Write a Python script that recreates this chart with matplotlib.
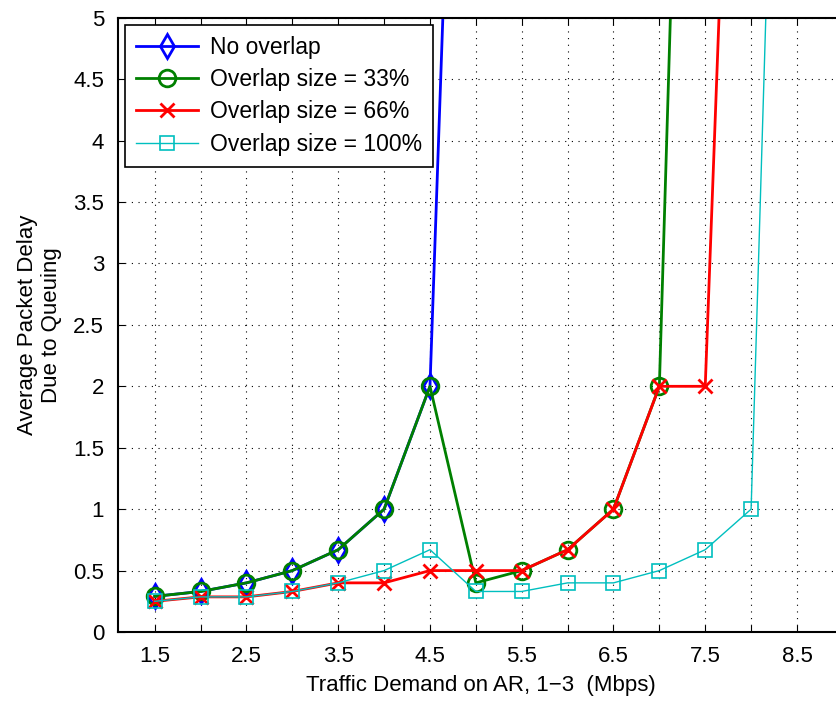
import matplotlib
matplotlib.use('Agg')
import matplotlib.pyplot as plt
import numpy as np

plt.rcParams['font.family'] = ['Liberation Sans', 'DejaVu Sans']

# data
x_none = [1.5, 2.0, 2.5, 3.0, 3.5, 4.0, 4.5, 5.0]
y_none = [0.29, 0.33, 0.40, 0.50, 0.67, 1.0, 2.0, 12.7]

x_33 = [1.5, 2.0, 2.5, 3.0, 3.5, 4.0, 4.5, 5.0, 5.5, 6.0, 6.5, 7.0, 7.5]
y_33 = [0.29, 0.33, 0.40, 0.50, 0.67, 1.0, 2.0, 0.40, 0.50, 0.67, 1.0, 2.0, 14.5]

x_66 = [1.5, 2.0, 2.5, 3.0, 3.5, 4.0, 4.5, 5.0, 5.5, 6.0, 6.5, 7.0, 7.5, 8.0]
y_66 = [0.25, 0.286, 0.286, 0.33, 0.40, 0.40, 0.50, 0.50, 0.50, 0.67, 1.0, 2.0, 2.0, 12.0]

x_100 = [1.5, 2.0, 2.5, 3.0, 3.5, 4.0, 4.5, 5.0, 5.5, 6.0, 6.5, 7.0, 7.5, 8.0, 8.5]
y_100 = [0.25, 0.286, 0.286, 0.33, 0.40, 0.50, 0.67, 0.33, 0.33, 0.40, 0.40, 0.50, 0.67, 1.0, 13.5]

xticks = np.arange(1.5, 9.0, 0.5)
xlabels = ['%g' % v if (v * 2) % 2 == 1 else '' for v in xticks]
yticks = np.arange(0, 5.01, 0.5)
ylabels = ['%g' % v for v in yticks]

fig = plt.figure(figsize=(8.37, 7.02), dpi=100)
ax = fig.add_axes([0.141, 0.0997, 0.866, 0.875])

ax.plot(x_none, y_none, '-', color='b', lw=2, marker='d', ms=12, mfc='none', mew=2, label='No overlap')
ax.plot(x_33, y_33, '-', color=(0, 0.5, 0), lw=2, marker='o', ms=12, mfc='none', mew=2, label='Overlap size = 33%')
ax.plot(x_66, y_66, '-', color='r', lw=2, marker='x', ms=10, mew=2, label='Overlap size = 66%')
ax.plot(x_100, y_100, '-', color=(0, 0.75, 0.75), lw=1, marker='s', ms=10, mfc='none', mew=1.2, label='Overlap size = 100%')

ax.set_xlim(1.1, 9.0)
ax.set_ylim(0, 5)
ax.set_xticks(xticks)
ax.set_xticklabels(xlabels)
ax.set_yticks(yticks)
ax.set_yticklabels(ylabels)
ax.tick_params(direction='in', top=True, right=True, labelsize=16, length=5, pad=10)
ax.grid(True, color='k', linestyle=(0, (1, 5)), linewidth=0.8)
for s in ax.spines.values():
    s.set_linewidth(1.5)

ax.set_xlabel('Traffic Demand on AR, 1\u22123  (Mbps)', fontsize=16, labelpad=6)
ax.set_ylabel('Average Packet Delay\nDue to Queuing', fontsize=16, labelpad=8)

leg = ax.legend(loc='upper left', fontsize=16.5, fancybox=False, edgecolor='k', framealpha=1,
                handlelength=2.7, borderaxespad=0.3, labelspacing=0.4, handletextpad=0.5,
                borderpad=0.5)
leg.get_frame().set_linewidth(1.2)

fig.savefig('out.png', dpi=100)
